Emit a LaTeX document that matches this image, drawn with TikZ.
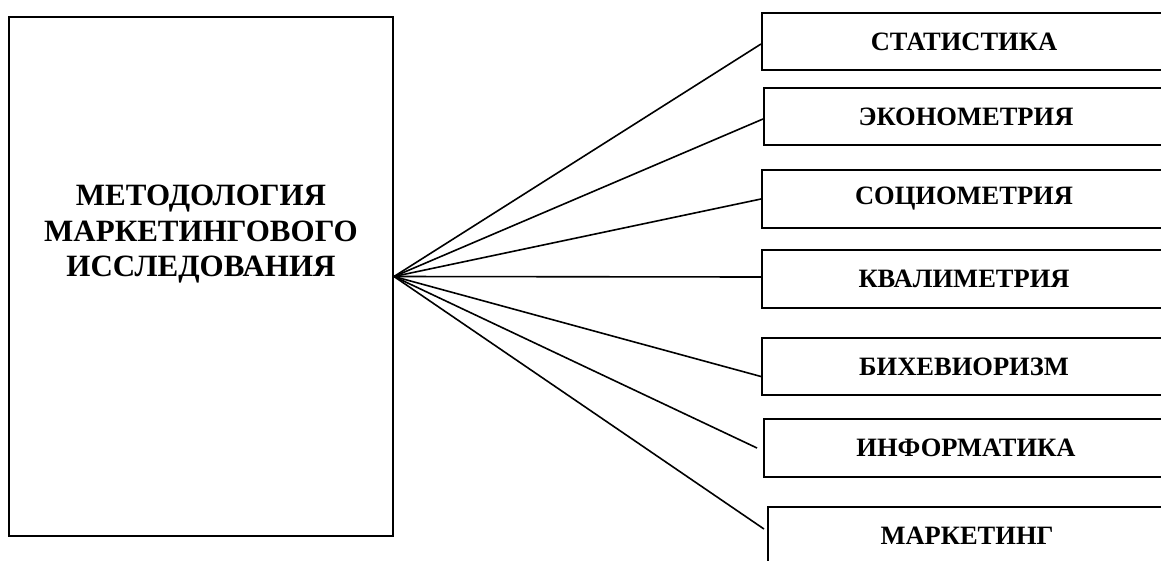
\documentclass[tikz,border=0pt]{standalone}
\usepackage{fontspec}
\setmainfont{Liberation Serif}
\begin{document}
\begin{tikzpicture}[x=1pt,y=-1pt,
    subjbox/.style={shape=rectangle,draw=black,line width=2pt,anchor=north west,
        minimum width=404pt,minimum height=57pt,inner sep=0pt,
        font=\fontsize{26.5pt}{30pt}\selectfont\bfseries},
    spoke/.style={draw=black,line width=1.6pt}]
    \useasboundingbox (0,0) rectangle (1161,560);
    \clip (0,0) rectangle (1161,560);

    \node[shape=rectangle,draw=black,line width=2pt,minimum width=384pt,minimum height=519pt] (meth) at (201,276.5) {};
    \node[align=center,font=\fontsize{31pt}{35.5pt}\selectfont\bfseries] (methtext) at ([yshift=42pt]meth.center) {МЕТОДОЛОГИЯ\\МАРКЕТИНГОВОГО\\ИССЛЕДОВАНИЯ};

    \node[subjbox] (stat) at (761,12) {СТАТИСТИКА};
    \node[subjbox] (econ) at (763,87) {ЭКОНОМЕТРИЯ};
    \node[subjbox,minimum height=58pt] (soc) at (761,169) {СОЦИОМЕТРИЯ};
    \node[subjbox,minimum height=58pt] (qual) at (761,249) {КВАЛИМЕТРИЯ};
    \node[subjbox] (beh) at (761,337) {БИХЕВИОРИЗМ};
    \node[subjbox,minimum height=58pt] (inf) at (763,418) {ИНФОРМАТИКА};
    \node[subjbox,minimum width=398pt] (mark) at (767,506) {МАРКЕТИНГ};

    \path[spoke] (meth.east) -- ([yshift=-2.5pt]stat.west);
    \path[spoke] (meth.east) -- ([yshift=-2.5pt]econ.west);
    \path[spoke] (meth.east) -- (soc.west);
    \path[spoke] (meth.east) -- ([yshift=2pt]qual.west);
    \path[spoke] (meth.east) -- ([yshift=-10pt]beh.west);
    \path[spoke] (meth.east) -- ([xshift=-6pt]inf.west);
    \path[spoke] (meth.east) -- ([xshift=-3pt,yshift=6.5pt]mark.west);
\end{tikzpicture}
\end{document}
